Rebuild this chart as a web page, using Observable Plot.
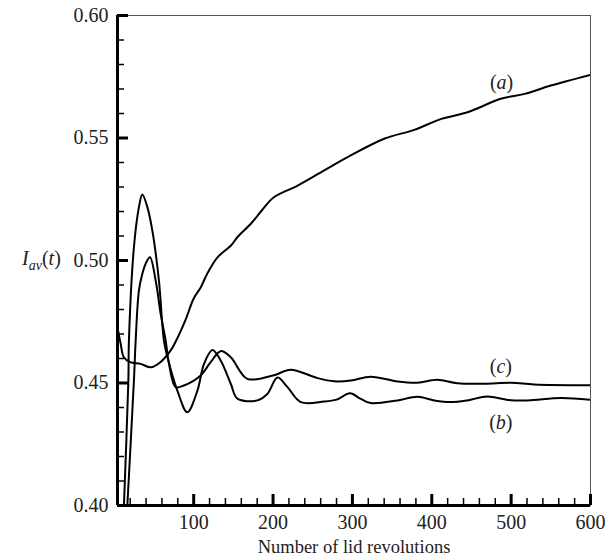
<!DOCTYPE html>
<html>
<head>
<meta charset="utf-8">
<script src="https://cdn.jsdelivr.net/npm/d3@7"></script>
<script src="https://cdn.jsdelivr.net/npm/@observablehq/plot@0.6"></script>
<style>
  html, body { margin: 0; padding: 0; background: white; }
  #chart { width: 605px; height: 559px; }
</style>
</head>
<body>
<div id="chart"></div>
<script>
// ---- Data ----
const xDomain = [4, 600];
const yDomain = [0.40, 0.60];
const xMajor = [100, 200, 300, 400, 500, 600];
const xMinor = [20, 40, 60, 80, 120, 140, 160, 180, 220, 240, 260, 280, 320, 340, 360, 380, 420, 440, 460, 480, 520, 540, 560, 580];
const yMajor = [0.40, 0.45, 0.50, 0.55, 0.60];
const yMinor = [0.41, 0.42, 0.43, 0.44, 0.46, 0.47, 0.48, 0.49, 0.51, 0.52, 0.53, 0.54, 0.56, 0.57, 0.58, 0.59];

// curve (a)
const aX = [4, 8, 12, 20, 33, 46, 58, 71, 80, 90, 100, 109, 117, 130, 147, 155, 172, 186, 201, 231, 264, 294, 340, 378, 412, 445, 487, 517, 550, 600];
const aY = [0.4727, 0.466, 0.4605, 0.4585, 0.4578, 0.4564, 0.4585, 0.4633, 0.4687, 0.476, 0.4845, 0.4891, 0.4946, 0.5013, 0.5061, 0.5095, 0.515, 0.5205, 0.5258, 0.5306, 0.5367, 0.5422, 0.5497, 0.5533, 0.5578, 0.5605, 0.566, 0.568, 0.5714, 0.5758];

// curve (b)
const bX = [11, 12.1, 17.7, 18.4, 24.7, 31, 35.3, 41.6, 47.9, 56.2, 62.5, 67, 79.4, 92, 104.7, 113, 123.6, 134, 146.7, 155.1, 180.3, 193, 205.6, 218.2, 235, 264, 280, 297, 310, 323, 357, 382, 403, 424, 445, 470, 496, 521, 563, 600];
const bY = [0.3898, 0.40, 0.451, 0.4673, 0.5054, 0.5218, 0.5269, 0.5218, 0.5122, 0.4918, 0.4673, 0.4605, 0.4469, 0.4381, 0.4469, 0.4578, 0.4635, 0.4592, 0.4497, 0.4436, 0.4429, 0.4456, 0.4522, 0.4483, 0.4422, 0.4424, 0.4432, 0.4458, 0.4436, 0.4418, 0.4429, 0.4444, 0.4429, 0.4422, 0.4429, 0.4445, 0.4431, 0.4429, 0.4439, 0.4431];

// curve (c)
const cX = [15, 16.4, 24.7, 26.9, 31, 35.3, 39.5, 44.9, 52.1, 58.4, 64.7, 68.9, 77.3, 87.8, 108.8, 121.4, 134, 146.7, 167.7, 201.3, 222.3, 256, 277, 298, 323, 357, 382, 407, 432, 466, 500, 529, 600];
const cY = [0.391, 0.40, 0.451, 0.4673, 0.4878, 0.4946, 0.4987, 0.5013, 0.4918, 0.4782, 0.4673, 0.4578, 0.4483, 0.449, 0.4531, 0.4585, 0.463, 0.4605, 0.4517, 0.4532, 0.4554, 0.452, 0.4507, 0.451, 0.4526, 0.4506, 0.4501, 0.4513, 0.4499, 0.4497, 0.4501, 0.4494, 0.4491];

// curve labels
const labelText = ["(a)", "(c)", "(b)"];
const labelX = [488, 487, 487];
const labelY = [0.5728, 0.4567, 0.434];

const xTitle = "Number of lid revolutions";

// ---- Build tables ----
const toRows = (xs, ys) => xs.map((x, i) => ({x, y: ys[i]}));
const rowsA = toRows(aX, aY);
const rowsB = toRows(bX, bY);
const rowsC = toRows(cX, cY);
const labels = labelText.map((t, i) => ({t, x: labelX[i], y: labelY[i]}));

const FONT = "Liberation Serif, Times New Roman, serif";

const chart = Plot.plot({
  width: 605,
  height: 559,
  marginLeft: 117,
  marginRight: 15,
  marginTop: 15,
  marginBottom: 54,
  style: {fontFamily: FONT, fontSize: "20px", color: "#222", background: "white", overflow: "visible"},
  x: {domain: xDomain},
  y: {domain: yDomain},
  marks: [
    Plot.frame({stroke: "#555", strokeWidth: 1}),
    Plot.line(rowsA, {x: "x", y: "y", stroke: "black", strokeWidth: 2, curve: "catmull-rom", clip: true}),
    Plot.line(rowsB, {x: "x", y: "y", stroke: "black", strokeWidth: 2, curve: "catmull-rom", clip: true}),
    Plot.line(rowsC, {x: "x", y: "y", stroke: "black", strokeWidth: 2, curve: "catmull-rom", clip: true}),
    // inward ticks
    Plot.axisY({ticks: yMajor, tickSize: -11, strokeWidth: 3, stroke: "black", fill: "none", label: null}),
    Plot.axisY({ticks: yMinor, tickSize: -7, strokeWidth: 1.5, stroke: "black", fill: "none", label: null}),
    Plot.axisX({ticks: xMajor, tickSize: -11, strokeWidth: 3, stroke: "black", fill: "none", label: null}),
    Plot.axisX({ticks: xMinor, tickSize: -7, strokeWidth: 1.5, stroke: "black", fill: "none", label: null}),
    // tick labels
    Plot.axisY({ticks: yMajor, tickSize: 0, tickPadding: 9, tickFormat: d3.format(".2f"), fontSize: 20, fill: "#222", label: null}),
    Plot.axisX({ticks: xMajor, tickSize: 0, tickPadding: 9, tickFormat: d3.format("d"), fontSize: 20, fill: "#222", label: null}),
    // thick left & bottom axis lines
    Plot.ruleX([xDomain[0]], {stroke: "black", strokeWidth: 3}),
    Plot.ruleY([yDomain[0]], {stroke: "black", strokeWidth: 3}),
    // x-axis title
    Plot.text([xTitle], {frameAnchor: "bottom", dy: 47, fontSize: 18.5, fill: "#222"}),
    // curve labels
    Plot.text(labels, {x: "x", y: "y", text: "t", fontSize: 20, fill: "#222"})
  ]
});

document.getElementById("chart").appendChild(chart);

const svg = d3.select(chart);

// curve labels: italic letter, upright parentheses
svg.selectAll("text").each(function() {
  const s = d3.select(this);
  const t = s.text();
  if (!/^\([abc]\)$/.test(t)) return;
  const letter = t.slice(1, 2);
  s.selectAll("*").remove();
  s.text(null);
  s.append("tspan").text("(");
  s.append("tspan").attr("font-style", "italic").style("font-style", "italic").text(letter);
  s.append("tspan").text(")");
});

// y-axis label  I_av(t)
const yl = svg.append("text")
  .attr("x", 22).attr("y", 265)
  .attr("text-anchor", "start")
  .attr("font-family", FONT).attr("font-size", 20).attr("fill", "#222");
yl.append("tspan").attr("font-style", "italic").text("I");
yl.append("tspan").attr("font-style", "italic").attr("font-size", 14).attr("dy", 5).text("av");
yl.append("tspan").attr("dy", -5).text("(");
yl.append("tspan").attr("font-style", "italic").text("t");
yl.append("tspan").text(")");
</script>
</body>
</html>
